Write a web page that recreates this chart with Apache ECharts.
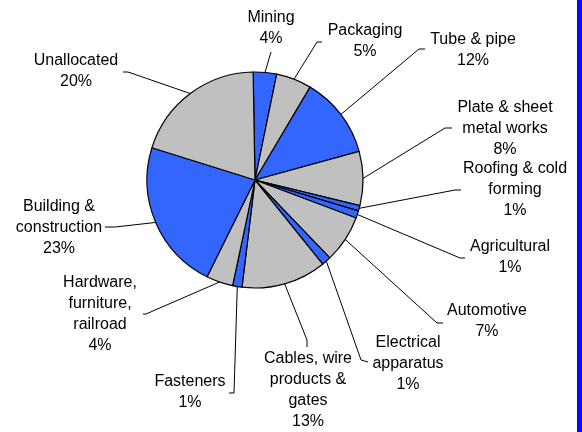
<!DOCTYPE html>
<html>
<head>
<meta charset="utf-8">
<script src="https://cdn.jsdelivr.net/npm/echarts@6/dist/echarts.min.js"></script>
<style>
  html, body { margin: 0; padding: 0; background: #fff; }
  #chart { width: 582px; height: 432px; }
</style>
</head>
<body>
<div id="chart"></div>
<script>
// ---- data ----
const categories = [
  'Mining', 'Packaging', 'Tube & pipe', 'Plate & sheet\nmetal works',
  'Roofing & cold\nforming', 'Agricultural', 'Automotive', 'Electrical\napparatus',
  'Cables, wire\nproducts &\ngates', 'Fasteners', 'Hardware,\nfurniture,\nrailroad',
  'Building &\nconstruction', 'Unallocated'
];
const shares = [3.5, 5.3, 12.2, 8.1, 0.8, 1.1, 7.1, 1.4, 12.7, 1.4, 4.0, 22.5, 19.9];
const colourGroup = ['b', 'g', 'b', 'g', 'b', 'b', 'g', 'b', 'g', 'b', 'g', 'b', 'g'];

// ---- styling / layout ----
const palette = { b: '#3366FF', g: '#C0C0C0' };
// label block centre, leader elbow, leader end (next to text)
const labelLayoutCfg = [
  [271, 28.5, [271, 52], [271, 52]],
  [365, 41.5, [317, 42], [322, 42]],
  [473, 50,   [419, 49], [425, 49]],
  [505, 128.5,[445, 128], [452, 128]],
  [515, 190,  [455, 190], [461, 190]],
  [510, 257.5,[460, 258], [465, 258]],
  [487, 321.5,[437, 323], [443, 323]],
  [408, 364,  [361, 360], [368, 362]],
  [308, 390.5,[307, 340], [307, 347]],
  [190, 392.5,[234, 393], [229, 393]],
  [100, 314,  [146, 314], [143, 314]],
  [59, 227.5, [115, 227], [105, 227]],
  [76, 71.5,  [128, 72], [123, 72]]
];

const chart = echarts.init(document.getElementById('chart'), null, { renderer: 'canvas' });
chart.setOption({
  animation: false,
  backgroundColor: '#ffffff',
  graphic: [{
    type: 'rect', right: 0, top: 0,
    shape: { width: 5, height: 432 },
    style: { fill: '#0A0AFF' }
  }],
  series: [{
    type: 'pie',
    center: [255, 180],
    radius: 108,
    startAngle: 91,
    clockwise: true,
    avoidLabelOverlap: false,
    data: categories.map((c, i) => ({
      name: c,
      value: shares[i],
      itemStyle: { color: palette[colourGroup[i]] }
    })),
    itemStyle: { borderColor: '#000', borderWidth: 1.2 },
    label: {
      show: true,
      position: 'outside',
      formatter: p => p.name + '\n' + Math.round(p.value) + '%',
      fontFamily: '"Liberation Sans", Arial, sans-serif',
      fontSize: 16,
      lineHeight: 21,
      color: '#000',
      align: 'center'
    },
    labelLine: {
      show: true,
      length: 10,
      length2: 5,
      smooth: false,
      lineStyle: { color: '#000', width: 1 }
    },
    labelLayout: function (params) {
      const L = labelLayoutCfg[params.dataIndex];
      const out = { x: L[0], y: L[1], align: 'center', verticalAlign: 'middle' };
      if (params.labelLinePoints && params.labelLinePoints[0]) {
        out.labelLinePoints = [params.labelLinePoints[0], L[2], L[3]];
      }
      return out;
    },
    emphasis: { disabled: true }
  }]
});
</script>
</body>
</html>
